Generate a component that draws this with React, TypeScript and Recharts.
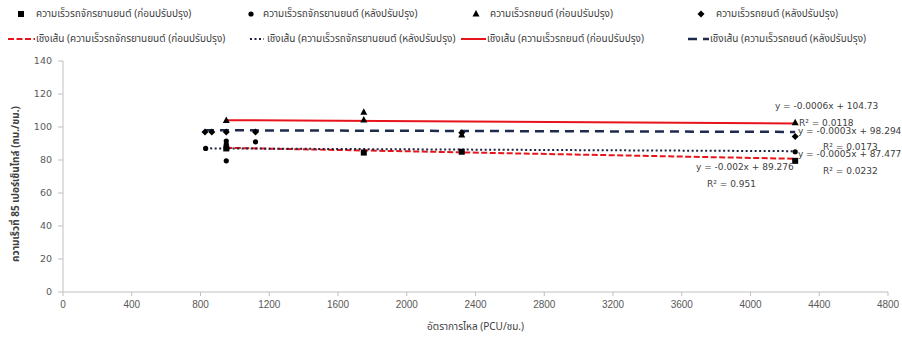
import { ComposedChart, Scatter, XAxis, YAxis, ReferenceDot } from 'recharts';

const xTicks = [0, 400, 800, 1200, 1600, 2000, 2400, 2800, 3200, 3600, 4000, 4400, 4800];
const yTicks = [0, 20, 40, 60, 80, 100, 120, 140];

// จุดข้อมูล (PCU/ชม., กม./ชม.)
const motoBefore = [
  { x: 950, y: 87 },
  { x: 1750, y: 84.5 },
  { x: 2320, y: 85 },
  { x: 4260, y: 79.5 },
];
const motoAfter = [
  { x: 830, y: 87 },
  { x: 950, y: 79.5 },
  { x: 950, y: 89.5 },
  { x: 950, y: 91.5 },
  { x: 1120, y: 91 },
  { x: 4260, y: 85 },
];
const carBefore = [
  { x: 950, y: 104 },
  { x: 1750, y: 109 },
  { x: 1750, y: 104.2 },
  { x: 2320, y: 95.2 },
  { x: 4260, y: 102.6 },
];
const carAfter = [
  { x: 826, y: 97 },
  { x: 866, y: 97 },
  { x: 950, y: 97 },
  { x: 1120, y: 97 },
  { x: 2320, y: 96.5 },
  { x: 4260, y: 94.2 },
];

const seriesNames = [
  'ความเร็วรถจักรยานยนต์ (ก่อนปรับปรุง)',
  'ความเร็วรถจักรยานยนต์ (หลังปรับปรุง)',
  'ความเร็วรถยนต์ (ก่อนปรับปรุง)',
  'ความเร็วรถยนต์ (หลังปรับปรุง)',
];

// เส้นแนวโน้มเชิงเส้น (ตามสมการของ Excel)
const trendSlopes = [-0.002, -0.0005, -0.0006, -0.0003];
const trendIntercepts = [89.276, 87.477, 104.73, 98.294];
const trendR2 = ['0.951', '0.0232', '0.0118', '0.0173'];

const allSeries = [motoBefore, motoAfter, carBefore, carAfter];

const trendData = allSeries.map((pts, i) => {
  const xs = pts.map((p) => p.x);
  const lo = Math.min(...xs);
  const hi = Math.max(...xs);
  return [lo, hi].map((x) => ({ x, y: trendSlopes[i] * x + trendIntercepts[i] }));
});

const trendStyles = [
  { stroke: '#e8141b', strokeWidth: 2, strokeDasharray: '6 2.5' },
  { stroke: '#1c2340', strokeWidth: 2, strokeDasharray: '2 2.5' },
  { stroke: '#e8141b', strokeWidth: 2 },
  { stroke: '#1f2b4d', strokeWidth: 2.5, strokeDasharray: '9 6' },
];

// ตำแหน่งป้ายสมการ (พิกัดข้อมูล) [สมการ, R²]
const eqPos = [
  [{ x: 3683, y: 75.9 }, { x: 3747, y: 65.5 }],
  [{ x: 4276, y: 83.6 }, { x: 4422, y: 73.3 }],
  [{ x: 4142, y: 112.7 }, { x: 4282, y: 102.6 }],
  [{ x: 4276, y: 97.8 }, { x: 4422, y: 88.1 }],
];

const thaiFont = "Tahoma, 'Noto Sans Thai', 'Noto Sans', 'DejaVu Sans', sans-serif";
const numFont = "'DejaVu Sans', Verdana, sans-serif";

const Square = ({ cx, cy }: any) => <rect x={cx - 3} y={cy - 3} width={6} height={6} fill="#000" />;
const Dot = ({ cx, cy }: any) => <circle cx={cx} cy={cy} r={2.6} fill="#000" />;
const Tri = ({ cx, cy }: any) => (
  <polygon points={`${cx},${cy - 4} ${cx + 3.5},${cy + 2.5} ${cx - 3.5},${cy + 2.5}`} fill="#000" />
);
const Diamond = ({ cx, cy }: any) => (
  <polygon points={`${cx},${cy - 3.5} ${cx + 3.5},${cy} ${cx},${cy + 3.5} ${cx - 3.5},${cy}`} fill="#000" />
);
const markers = [Square, Dot, Tri, Diamond];
const Empty = () => <g />;

const legendRow1 = [
  { mx: 21, tx: 36 },
  { mx: 251, tx: 263 },
  { mx: 476, tx: 490 },
  { mx: 701, tx: 716 },
];
const legendRow2 = [
  { lx: 8, lw: 27, tx: 36 },
  { lx: 250, lw: 14, tx: 267 },
  { lx: 461, lw: 25, tx: 487 },
  { lx: 688, lw: 21, tx: 710 },
];

const Legend = () => (
  <svg width={902} height={50} style={{ position: 'absolute', left: 0, top: 0 }}>
    {legendRow1.map((p, i) => {
      const M = markers[i];
      return (
        <g key={'a' + i}>
          <M cx={p.mx} cy={14} />
          <text x={p.tx} y={14} dominantBaseline="central" fontSize={10} fontFamily={thaiFont} fill="#404040">
            {seriesNames[i]}
          </text>
        </g>
      );
    })}
    {legendRow2.map((p, i) => (
      <g key={'b' + i}>
        <line x1={p.lx} x2={p.lx + p.lw} y1={39} y2={39} {...trendStyles[i]} />
        <text x={p.tx} y={39} dominantBaseline="central" fontSize={10} fontFamily={thaiFont} fill="#404040">
          {'เชิงเส้น (' + seriesNames[i]}
        </text>
      </g>
    ))}
  </svg>
);

const YLabel = () => (
  <text
    x={16}
    y={184}
    transform="rotate(-90 16 184)"
    textAnchor="middle"
    dominantBaseline="central"
    fontSize={10}
    fontWeight="bold"
    fontFamily={thaiFont}
    fill="#404040"
  >
    ความเร็วที่ 85 เปอร์เซ็นไทล์ (กม./ชม.)
  </text>
);

export default function App() {
  return (
    <div style={{ position: 'absolute', left: 0, top: 0, width: 902, height: 340, background: '#fff', overflow: 'hidden' }}>
      <ComposedChart width={902} height={340} margin={{ top: 61, right: 14, bottom: 0, left: 0 }}>
        <XAxis
          type="number"
          dataKey="x"
          domain={[0, 4800]}
          ticks={xTicks}
          interval={0}
          height={48}
          stroke="#bfbfbf"
          tickSize={4}
          tickMargin={5}
          tick={{ fill: '#595959', fontSize: 10, fontFamily: "'Liberation Sans Narrow', 'Liberation Sans', sans-serif" }}
          label={{ value: 'อัตราการไหล (PCU/ชม.)', position: 'insideBottom', offset: 10, fontSize: 10, fill: '#404040', fontFamily: thaiFont }}
        />
        <YAxis
          type="number"
          dataKey="y"
          domain={[0, 140]}
          ticks={yTicks}
          interval={0}
          width={63}
          stroke="#bfbfbf"
          tickSize={5}
          tickMargin={6}
          tick={{ fill: '#595959', fontSize: 9.5, fontFamily: numFont }}
          label={{ content: () => <YLabel /> }}
        />
        {trendData.map((d, i) => (
          <Scatter
            key={'t' + i}
            data={d}
            line={trendStyles[i]}
            shape={Empty}
            isAnimationActive={false}
          />
        ))}
        {allSeries.map((d, i) => (
          <Scatter key={'s' + i} name={seriesNames[i]} data={d} shape={markers[i]} isAnimationActive={false} />
        ))}
        {eqPos.map((pair, i) => [
          <ReferenceDot
            key={'e' + i}
            x={pair[0].x}
            y={pair[0].y}
            r={0}
            fill="none"
            stroke="none"
            ifOverflow="visible"
            label={{ value: `y = ${trendSlopes[i]}x + ${trendIntercepts[i]}`, position: 'right', offset: 0, fontSize: 9, fill: '#404040', fontFamily: numFont }}
          />,
          <ReferenceDot
            key={'r' + i}
            x={pair[1].x}
            y={pair[1].y}
            r={0}
            fill="none"
            stroke="none"
            ifOverflow="visible"
            label={{ value: `R² = ${trendR2[i]}`, position: 'right', offset: 0, fontSize: 9, fill: '#404040', fontFamily: numFont }}
          />,
        ])}
      </ComposedChart>
      <Legend />
    </div>
  );
}
